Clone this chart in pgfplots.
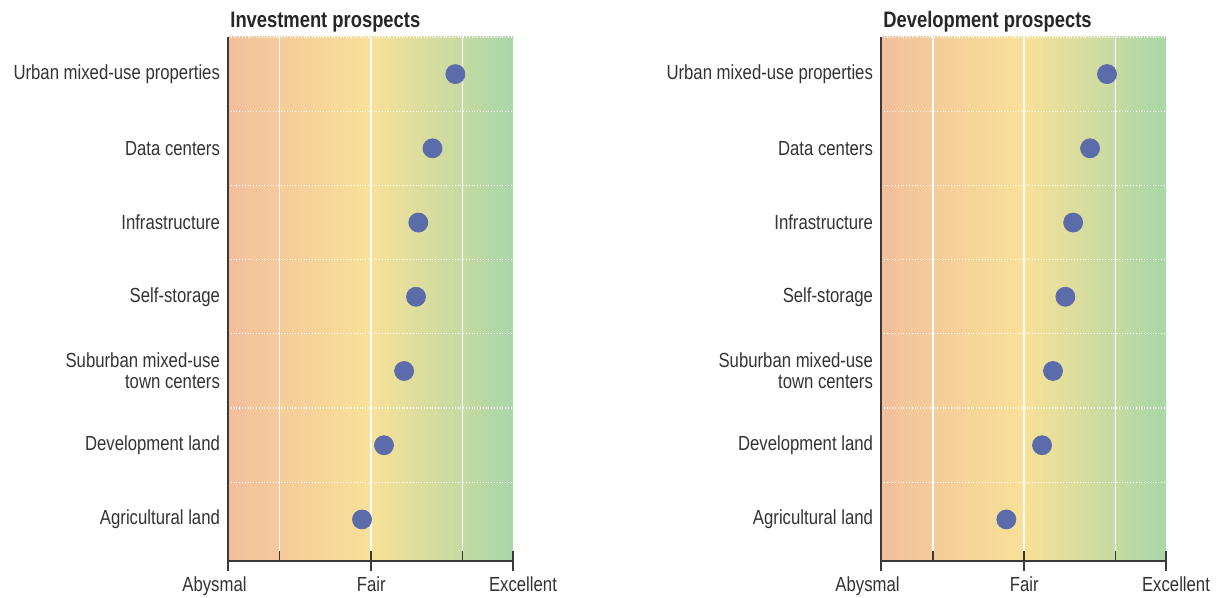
\documentclass[border=0pt]{standalone}
\usepackage{fontspec}
\setmainfont[FakeStretch=0.82]{Liberation Sans}
\usepackage{pgfplots}
\pgfplotsset{compat=1.18}

\definecolor{dotblue}{HTML}{5C6BAA}
\definecolor{bgleft}{HTML}{F3BF9C}
\definecolor{bgmid}{HTML}{F8E198}
\definecolor{bgright}{HTML}{A9D6A8}
\definecolor{axisgray}{HTML}{3A3A3A}
\definecolor{labelgray}{HTML}{333333}

% 1px of the reference = 0.5pt
\pgfplotsset{prospects/.style={
  width=142.5pt, height=262pt, scale only axis,
  xmin=1.87, xmax=8.1, ymin=-0.56, ymax=6.5,
  axis x line=bottom, axis y line=left,
  axis line style={-, axisgray, line width=1pt},
  axis background/.style={left color=bgleft, right color=bgright, middle color=bgmid},
  tick align=center, major tick length=10pt,
  xtick={1.87,5,8.1},
  xticklabels={\hspace*{-13.5pt}Abysmal, Fair, Excellent\hspace*{-10pt}},
  xtick style={axisgray, line width=0.8pt},
  xticklabel style={yshift=0.8pt},
  extra x ticks={3,5,7}, extra x tick labels={},
  extra x tick style={tick align=inside, major tick length=5pt, grid=major,
    major grid style={white, line width=0.8pt}},
  ytick={0,...,6},
  yticklabels={Agricultural land, Development land, {Suburban mixed-use\\town centers},
    Self-storage, Infrastructure, Data centers, Urban mixed-use properties},
  ytick style={draw=none}, minor tick length=0pt,
  minor ytick={0.5,1.5,2.5,3.5,4.5,5.5,6.5}, yminorgrids,
  minor grid style={white, densely dotted, line width=0.6pt},
  tick label style={font=\fontsize{10.2}{10.5}\selectfont, text=labelgray},
  yticklabel style={align=right, xshift=4.5pt},
  title style={at={(0,1)}, anchor=base west, yshift=-1.5pt, xshift=1pt, inner sep=0pt,
    font=\bfseries\fontsize{11.2}{12}\selectfont, text=black!85},
  clip=false,
}}

\begin{document}
\begin{tikzpicture}
\useasboundingbox (-114pt,-18.5pt) rectangle (495pt,280.5pt);

\begin{axis}[prospects, title={Investment prospects}]
\addplot[only marks, mark=*, mark size=4.75pt, color=dotblue]
  coordinates {(4.80,0) (5.28,1) (5.72,2) (5.98,3) (6.03,4) (6.34,5) (6.84,6)};
\end{axis}

\begin{axis}[prospects, at={(326.5pt,0pt)}, title={Development prospects}]
\addplot[only marks, mark=*, mark size=4.75pt, color=dotblue]
  coordinates {(4.61,0) (5.39,1) (5.63,2) (5.90,3) (6.07,4) (6.44,5) (6.81,6)};
\end{axis}
\end{tikzpicture}
\end{document}
